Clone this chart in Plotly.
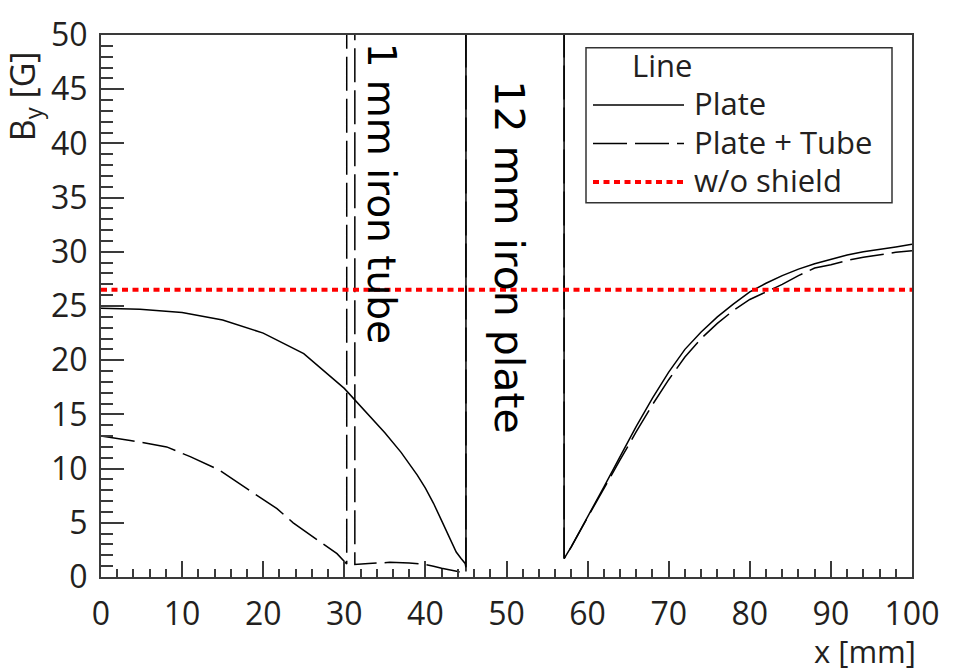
import plotly.graph_objects as go

# ---------------- data ----------------
# Plate only (solid)
plate_x = [0, 4.8, 10, 15, 20, 25, 30, 35, 37, 39, 40, 41, 42, 43, 43.8, 44.4, 44.9, 45.0,
           45.0, 57.1,
           57.1, 58, 60, 62, 64, 66, 68, 70, 72, 74, 76, 78, 80, 82, 84, 86, 88, 90, 92, 94, 96, 98, 100]
plate_y = [24.8, 24.7, 24.4, 23.7, 22.5, 20.6, 17.4, 13.3, 11.5, 9.4, 8.2, 6.8, 5.2, 3.5, 2.3, 1.7, 1.25, 0.9,
           60, 60,
           1.7, 2.8, 5.5, 8.3, 11.1, 13.9, 16.5, 18.9, 21.0, 22.6, 24.0, 25.2, 26.3, 27.1, 27.8, 28.4, 28.9, 29.3, 29.7, 30.0, 30.2, 30.45, 30.7]

# Plate + Tube (dashed)
tube_x = [0, 3.6, 8.1, 11, 14.5, 16.7, 19.2, 21.7, 23.7, 26.6, 29.1, 30.3,
          30.3, 31.3,
          31.3, 33, 35.6, 38, 40, 41, 42, 44, 45.0,
          45.0, 57.1,
          57.1, 58, 60, 62, 64, 66, 68, 70, 72, 74, 76, 78, 80, 82, 84, 86, 88, 90, 92, 94, 96, 98, 100]
tube_y = [13.0, 12.6, 12.0, 11.1, 9.9, 8.8, 7.6, 6.3, 5.0, 3.5, 2.15, 1.2,
          60, 60,
          1.15, 1.25, 1.35, 1.3, 1.16, 1.0, 0.8, 0.5, 0.35,
          60, 60,
          1.7, 2.8, 5.5, 8.2, 10.8, 13.4, 15.9, 18.2, 20.3, 22.0, 23.4, 24.6, 25.6, 26.3, 27.0, 27.8, 28.5, 28.8, 29.2, 29.5, 29.75, 29.95, 30.1]

# Without shield (red dotted)
noshield_x = [0, 100]
noshield_y = [26.5, 26.5]

x_ticks = [0, 10, 20, 30, 40, 50, 60, 70, 80, 90, 100]
y_ticks = [0, 5, 10, 15, 20, 25, 30, 35, 40, 45, 50]

legend_labels = ["Plate", "Plate + Tube", "w/o shield"]

# ---------------- figure ----------------
W, H = 953, 672
L, R, T, B = 101, 41, 28, 95
PW, PH = W - L - R, H - T - B

def px(xp):
    return (xp - L) / PW

def py(yp):
    return (H - B - yp) / PH

AX = "#3a3a3a"
TXT = "#231f20"
DASH = "34px,8px"
DOT = "6px,4.5px"
FONT = "Open Sans"

fig = go.Figure()
fig.add_trace(go.Scatter(x=plate_x, y=plate_y, mode="lines", name=legend_labels[0],
                         line=dict(color="black", width=1.5), showlegend=False))
fig.add_trace(go.Scatter(x=tube_x, y=tube_y, mode="lines", name=legend_labels[1],
                         line=dict(color="black", width=1.5, dash=DASH), showlegend=False))
fig.add_trace(go.Scatter(x=noshield_x, y=noshield_y, mode="lines", name=legend_labels[2],
                         line=dict(color="#ff0000", width=4, dash=DOT), showlegend=False))

fig.update_layout(
    width=W, height=H,
    margin=dict(l=L, r=R, t=T, b=B),
    paper_bgcolor="white", plot_bgcolor="white",
    font=dict(family=FONT, color=TXT, size=32),
    showlegend=False,
)
fig.update_xaxes(range=[0, 100], tickvals=x_ticks, ticks="inside", ticklen=16, tickwidth=1.5,
                 tickcolor=AX, showline=True, linecolor=AX, linewidth=2, mirror=True,
                 showgrid=False, zeroline=False, ticklabelstandoff=8,
                 tickfont=dict(size=32, family=FONT, color=TXT),
                 minor=dict(dtick=2, ticks="inside", ticklen=8, tickwidth=1.5, tickcolor=AX, showgrid=False))
fig.update_yaxes(range=[0, 50], tickvals=y_ticks, ticks="inside", ticklen=23, tickwidth=1.5,
                 tickcolor=AX, showline=True, linecolor=AX, linewidth=2, mirror=True,
                 showgrid=False, zeroline=False, ticklabelstandoff=5,
                 tickfont=dict(size=32, family=FONT, color=TXT),
                 minor=dict(dtick=1, ticks="inside", ticklen=12, tickwidth=1.5, tickcolor=AX, showgrid=False))

# axis titles
fig.add_annotation(text="B<sub>y</sub> [G]", xref="paper", yref="paper", x=px(24), y=py(90),
                   textangle=-90, showarrow=False, font=dict(size=34, family=FONT, color=TXT),
                   xanchor="center", yanchor="middle", borderpad=0)
fig.add_annotation(text="x [mm]", xref="paper", yref="paper", x=px(918), y=py(652),
                   showarrow=False, font=dict(size=31, family=FONT, color=TXT),
                   xanchor="right", yanchor="middle")

# region labels
fig.add_annotation(text="1 mm iron tube", x=34.6, y=35.4, textangle=90, showarrow=False,
                   font=dict(size=39, family="DejaVu Sans", color="black"))
fig.add_annotation(text="12 mm iron plate", x=50.3, y=29.5, textangle=90, showarrow=False,
                   font=dict(size=41, family="DejaVu Sans", color="black"))

# custom legend
fig.add_shape(type="rect", xref="paper", yref="paper", x0=px(586), x1=px(892), y0=py(198), y1=py(41),
              line=dict(color="#333333", width=1.5), fillcolor="white", layer="above")
fig.add_annotation(text="Line", xref="paper", yref="paper", x=px(662), y=py(58), showarrow=False,
                   font=dict(size=31, family=FONT, color=TXT), xanchor="center", yanchor="middle",
                   height=34, borderpad=0)
leg_y = [99, 138, 177]
leg_styles = [dict(color="black", width=1.5), dict(color="black", width=1.5, dash=DASH),
              dict(color="#ff0000", width=4, dash=DOT)]
for lab, yy, st in zip(legend_labels, leg_y, leg_styles):
    fig.add_shape(type="line", xref="paper", yref="paper", x0=px(593), x1=px(684), y0=py(yy), y1=py(yy),
                  line=st, layer="above")
    fig.add_annotation(text=lab, xref="paper", yref="paper", x=px(693), y=py(yy - 2), showarrow=False,
                       font=dict(size=31, family=FONT, color=TXT), xanchor="left", yanchor="middle",
                       height=34, borderpad=0)

fig.write_html("out.html")
